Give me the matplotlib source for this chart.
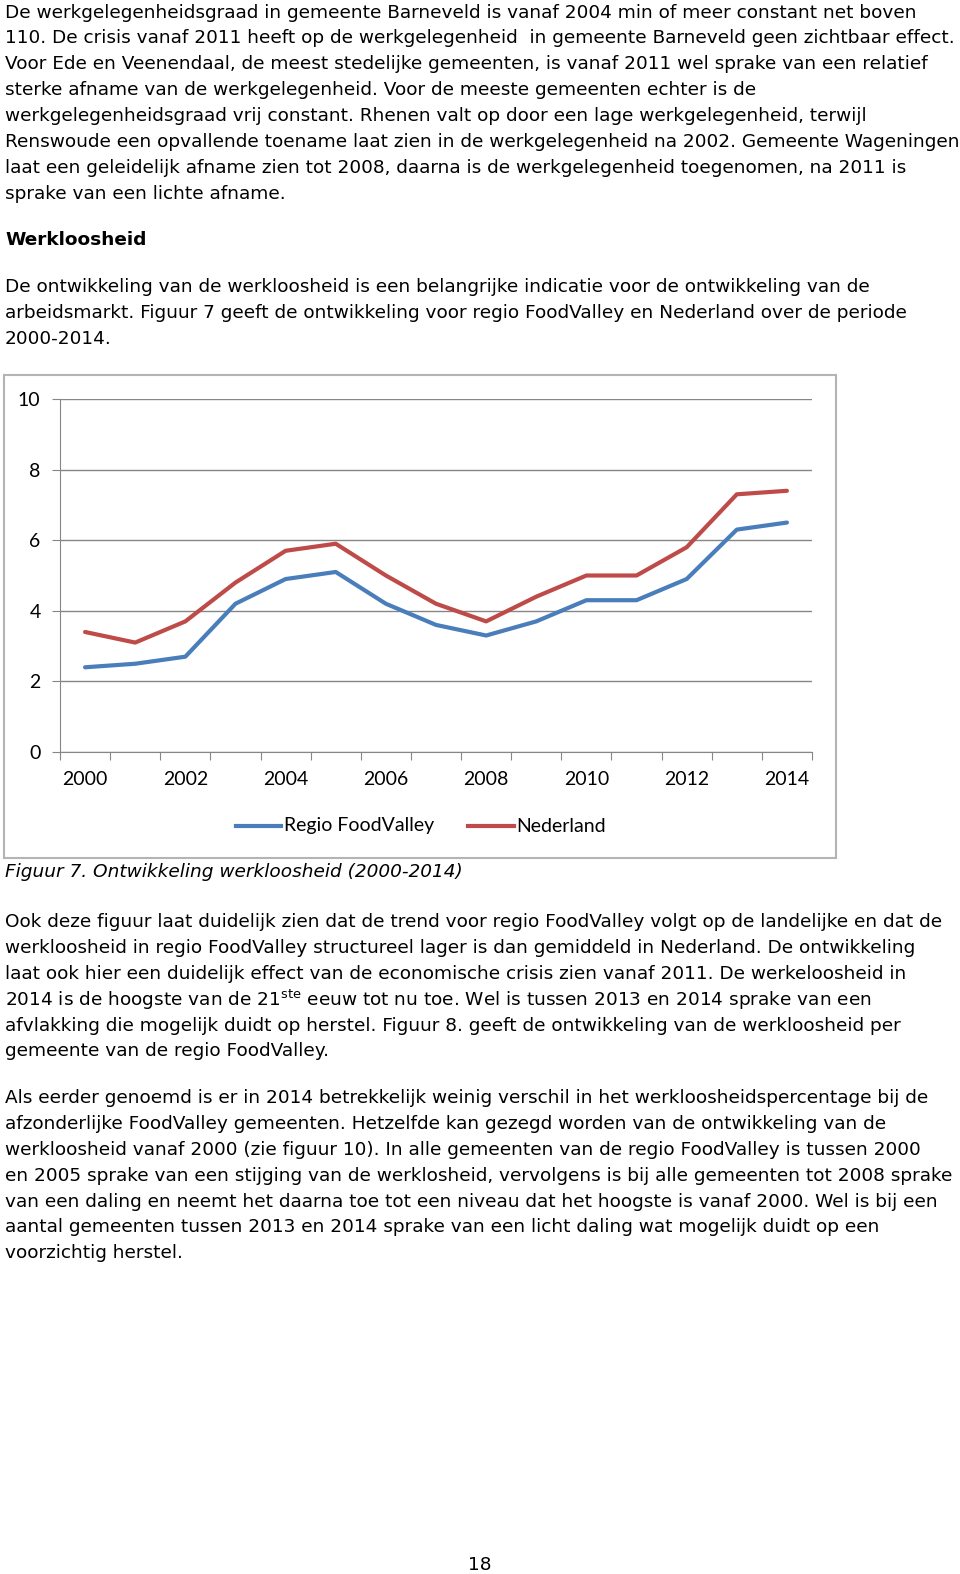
import matplotlib
matplotlib.use("Agg")
import matplotlib.pyplot as plt
from matplotlib.patches import Rectangle
from matplotlib.lines import Line2D

W, H = 960, 1574

# data
years = list(range(2000, 2015))
foodvalley = [2.4, 2.5, 2.7, 4.2, 4.9, 5.1, 4.2, 3.6, 3.3, 3.7, 4.3, 4.3, 4.9, 6.3, 6.5]
nederland = [3.4, 3.1, 3.7, 4.8, 5.7, 5.9, 5.0, 4.2, 3.7, 4.4, 5.0, 5.0, 5.8, 7.3, 7.4]
yticks = [0, 2, 4, 6, 8, 10]

para1 = [
    "De werkgelegenheidsgraad in gemeente Barneveld is vanaf 2004 min of meer constant net boven",
    "110. De crisis vanaf 2011 heeft op de werkgelegenheid  in gemeente Barneveld geen zichtbaar effect.",
    "Voor Ede en Veenendaal, de meest stedelijke gemeenten, is vanaf 2011 wel sprake van een relatief",
    "sterke afname van de werkgelegenheid. Voor de meeste gemeenten echter is de",
    "werkgelegenheidsgraad vrij constant. Rhenen valt op door een lage werkgelegenheid, terwijl",
    "Renswoude een opvallende toename laat zien in de werkgelegenheid na 2002. Gemeente Wageningen",
    "laat een geleidelijk afname zien tot 2008, daarna is de werkgelegenheid toegenomen, na 2011 is",
    "sprake van een lichte afname.",
]
para2 = [
    "De ontwikkeling van de werkloosheid is een belangrijke indicatie voor de ontwikkeling van de",
    "arbeidsmarkt. Figuur 7 geeft de ontwikkeling voor regio FoodValley en Nederland over de periode",
    "2000-2014.",
]
para3 = [
    "Ook deze figuur laat duidelijk zien dat de trend voor regio FoodValley volgt op de landelijke en dat de",
    "werkloosheid in regio FoodValley structureel lager is dan gemiddeld in Nederland. De ontwikkeling",
    "laat ook hier een duidelijk effect van de economische crisis zien vanaf 2011. De werkeloosheid in",
    "2014 is de hoogste van de 21$^{\\mathregular{ste}}$ eeuw tot nu toe. Wel is tussen 2013 en 2014 sprake van een",
    "afvlakking die mogelijk duidt op herstel. Figuur 8. geeft de ontwikkeling van de werkloosheid per",
    "gemeente van de regio FoodValley.",
]
para4 = [
    "Als eerder genoemd is er in 2014 betrekkelijk weinig verschil in het werkloosheidspercentage bij de",
    "afzonderlijke FoodValley gemeenten. Hetzelfde kan gezegd worden van de ontwikkeling van de",
    "werkloosheid vanaf 2000 (zie figuur 10). In alle gemeenten van de regio FoodValley is tussen 2000",
    "en 2005 sprake van een stijging van de werklosheid, vervolgens is bij alle gemeenten tot 2008 sprake",
    "van een daling en neemt het daarna toe tot een niveau dat het hoogste is vanaf 2000. Wel is bij een",
    "aantal gemeenten tussen 2013 en 2014 sprake van een licht daling wat mogelijk duidt op een",
    "voorzichtig herstel.",
]

plt.rcParams['font.family'] = ['DejaVu Sans']
plt.rcParams['mathtext.fontset'] = 'dejavusans'

fig = plt.figure(figsize=(W / 100, H / 100), dpi=100)
fig.patch.set_facecolor("white")

FS = 13.32
STEP = 25.9


def ptext(x, y, s, **kw):
    kw.setdefault("fontsize", FS)
    kw.setdefault("va", "center")
    kw.setdefault("ha", "left")
    fig.text(x / W, 1 - y / H, s, **kw)


def block(lines, y0):
    for i, line in enumerate(lines):
        ptext(5, y0 + i * STEP, line)


block(para1, 12.5)
ptext(5, 240, "Werkloosheid", fontweight="bold")
block(para2, 287)
ptext(5, 872, "Figuur 7. Ontwikkeling werkloosheid (2000-2014)", style="italic")
block(para3, 922)
block(para4, 1098)
ptext(480, 1565, "18", ha="center")

# chart frame
fig.patches.append(Rectangle((4 / W, 1 - 858 / H), 832 / W, 483 / H,
                             transform=fig.transFigure, fill=False,
                             edgecolor="#b4b4b4", linewidth=1.5))

grey = "#868686"
ax = fig.add_axes([60 / W, 1 - 752 / H, (812 - 60) / W, (752 - 399) / H])
x = list(range(len(years)))
ax.plot(x, foodvalley, color="#4A7EBB", linewidth=3, solid_capstyle="round")
ax.plot(x, nederland, color="#BE4B48", linewidth=3, solid_capstyle="round")
ax.set_xlim(-0.5, len(years) - 0.5)
ax.set_ylim(0, 10)
ax.set_yticks(yticks)
ax.yaxis.grid(True, color=grey, linewidth=1)
ax.set_axisbelow(True)
for s in ["top", "right"]:
    ax.spines[s].set_visible(False)
ax.spines["left"].set_color(grey)
ax.spines["bottom"].set_color(grey)

cfont = {"family": "Lato", "size": 14}
ax.set_xticks([i - 0.5 for i in range(len(years) + 1)])
ax.set_xticklabels([])
ax.tick_params(axis="x", length=6, color=grey)
ax.set_xticks(x[::2], minor=True)
ax.set_xticklabels([str(y) for y in years[::2]], minor=True, fontdict=cfont)
ax.tick_params(axis="x", which="minor", length=0, pad=14)
ax.set_yticklabels([str(t) for t in yticks], fontdict=cfont)
ax.tick_params(axis="y", length=6, color=grey, pad=8)

# legend
fig.add_artist(Line2D([236 / W, 281 / W], [1 - 826 / H] * 2, color="#4A7EBB", linewidth=3))
fig.add_artist(Line2D([468 / W, 514 / W], [1 - 826 / H] * 2, color="#BE4B48", linewidth=3))
fig.text(284 / W, 1 - 826 / H, "Regio FoodValley", va="center", family="Lato", fontsize=14)
fig.text(516 / W, 1 - 826 / H, "Nederland", va="center", family="Lato", fontsize=14)

fig.savefig("out.png", dpi=100)
